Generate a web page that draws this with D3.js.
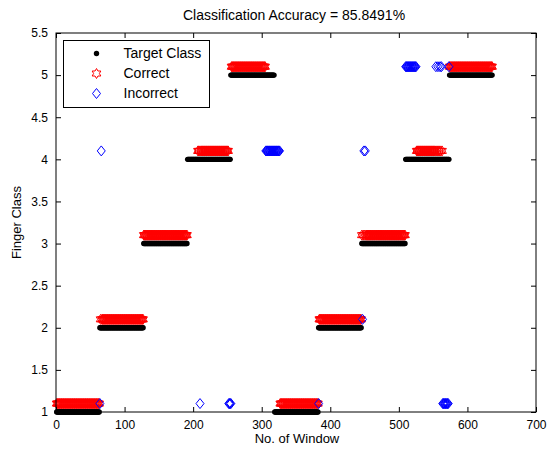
<!DOCTYPE html>
<meta charset="utf-8">
<style>
  body { margin: 0; background: #fff; }
  text { font-family: "Liberation Sans", Arial, sans-serif; }
</style>
<body>
<svg width="548" height="451"></svg>
<script src="https://cdnjs.cloudflare.com/ajax/libs/d3/7.8.5/d3.min.js"></script>
<script>

// target class of each run of consecutive windows: [class, number of windows]
var classRuns = [[1, 63], [2, 64], [3, 64], [4, 63], [5, 64], [1, 64], [2, 63], [3, 64], [4, 64], [5, 63]];
// misclassified windows: [first window, last window, predicted class]
var wrongRuns = [
  [64, 64, 1], [66, 66, 4], [192, 206, 5], [210, 210, 1], [252, 255, 1],
  [306, 326, 4], [383, 383, 1], [447, 447, 2], [449, 449, 4], [451, 451, 4],
  [510, 525, 5], [554, 554, 5], [557, 557, 5], [560, 560, 5], [562, 562, 5],
  [564, 572, 1], [573, 573, 5]
];
var xTicks = [0, 100, 200, 300, 400, 500, 600, 700];
var yTicks = [1, 1.5, 2, 2.5, 3, 3.5, 4, 4.5, 5, 5.5];
var legendNames = ["Target Class", "Correct", "Incorrect"];

var svg = d3.select("svg");
var margin = {top: 33, right: 12, bottom: 39, left: 56};
var width = +svg.attr("width") - margin.left - margin.right;
var height = +svg.attr("height") - margin.top - margin.bottom;
var g = svg.append("g").attr("transform", "translate(" + margin.left + "," + margin.top + ")");

var xScale = d3.scaleLinear().domain([0, 700]).range([0, width]);
var yScale = d3.scaleLinear().domain([1, 5.5]).range([height, 0]);

// expand the runs into one record per window
var data = [];
var n = 0;
classRuns.forEach(function(r) {
  for (var i = 0; i < r[1]; i++) {
    n++;
    data.push({w: n, target: r[0], pred: r[0]});
  }
});
wrongRuns.forEach(function(r) {
  data.forEach(function(d) {
    if (d.w >= r[0] && d.w <= r[1]) d.pred = r[2];
  });
});

function hexPath(R) {
  var p = [];
  for (var i = 0; i < 12; i++) {
    var a = -Math.PI / 2 + i * Math.PI / 6;
    var r = i % 2 ? R / Math.sqrt(3) : R;
    p.push([r * Math.cos(a), r * Math.sin(a)]);
  }
  return "M" + p.join("L") + "Z";
}
var starD = hexPath(5);
var diamondD = "M0,-5L4,0L0,5L-4,0Z";

// target class
g.selectAll(".target").data(data).enter().append("circle")
  .attr("class", "target")
  .attr("cx", function(d) { return xScale(d.w); })
  .attr("cy", function(d) { return yScale(d.target); })
  .attr("r", 2.7)
  .attr("fill", "black");

// correct
g.selectAll(".correct").data(data.filter(function(d) { return d.pred === d.target; })).enter().append("path")
  .attr("class", "correct")
  .attr("d", starD)
  .attr("transform", function(d) { return "translate(" + xScale(d.w) + "," + yScale(d.pred + 0.1) + ")"; })
  .attr("fill", "none")
  .attr("stroke", "#ff0000")
  .attr("stroke-width", 1);

// incorrect
g.selectAll(".wrong").data(data.filter(function(d) { return d.pred !== d.target; })).enter().append("path")
  .attr("class", "wrong")
  .attr("d", diamondD)
  .attr("transform", function(d) { return "translate(" + xScale(d.w) + "," + yScale(d.pred + 0.1) + ")"; })
  .attr("fill", "none")
  .attr("stroke", "#0000ff")
  .attr("stroke-width", 1);

// axes, ticks pointing inward, box on
function styleAxis(sel) {
  sel.selectAll("text").attr("font-size", 12).attr("fill", "black")
    .style("font-family", "'Liberation Sans', Arial, sans-serif");
  sel.selectAll("line").attr("stroke", "black");
  sel.select(".domain").remove();
}
g.append("g")
  .attr("transform", "translate(0," + height + ")")
  .call(d3.axisBottom(xScale).tickValues(xTicks).tickSizeInner(-5).tickSizeOuter(0).tickPadding(8))
  .call(styleAxis);
g.append("g")
  .call(d3.axisTop(xScale).tickValues(xTicks).tickSizeInner(-5).tickSizeOuter(0).tickFormat(""))
  .call(styleAxis);
g.append("g")
  .call(d3.axisLeft(yScale).tickValues(yTicks).tickSizeInner(-5).tickSizeOuter(0).tickPadding(8).tickFormat(d3.format("")))
  .call(styleAxis);
g.append("g")
  .attr("transform", "translate(" + width + ",0)")
  .call(d3.axisRight(yScale).tickValues(yTicks).tickSizeInner(-5).tickSizeOuter(0).tickFormat(""))
  .call(styleAxis);
g.append("rect")
  .attr("x", 0).attr("y", 0)
  .attr("width", width).attr("height", height)
  .attr("fill", "none")
  .attr("stroke", "black");

// labels
svg.append("text")
  .attr("x", margin.left + width / 2 - 2)
  .attr("y", 20)
  .attr("text-anchor", "middle")
  .attr("font-size", 14)
  .text("Classification Accuracy = 85.8491%");
svg.append("text")
  .attr("x", margin.left + width / 2 + 1)
  .attr("y", 443)
  .attr("text-anchor", "middle")
  .attr("font-size", 13)
  .text("No. of Window");
svg.append("text")
  .attr("transform", "translate(21," + (margin.top + height / 2) + ") rotate(-90)")
  .attr("text-anchor", "middle")
  .attr("font-size", 13)
  .text("Finger Class");

// legend
var legend = g.append("g").attr("transform", "translate(7.5,7.5)");
legend.append("rect")
  .attr("width", 146).attr("height", 67)
  .attr("fill", "white").attr("stroke", "black");
var rows = legend.selectAll(".row").data(legendNames).enter().append("g")
  .attr("transform", function(d, i) { return "translate(0," + (13 + i * 20) + ")"; });
rows.append("text")
  .attr("x", 60).attr("dy", "0.35em")
  .attr("font-size", 14)
  .text(function(d) { return d; });
rows.filter(function(d, i) { return i === 0; }).append("circle")
  .attr("cx", 33).attr("r", 2.7).attr("fill", "black");
rows.filter(function(d, i) { return i === 1; }).append("path")
  .attr("d", starD).attr("transform", "translate(33,0)")
  .attr("fill", "none").attr("stroke", "#ff0000");
rows.filter(function(d, i) { return i === 2; }).append("path")
  .attr("d", diamondD).attr("transform", "translate(33,0)")
  .attr("fill", "none").attr("stroke", "#0000ff");

</script>
</body>
